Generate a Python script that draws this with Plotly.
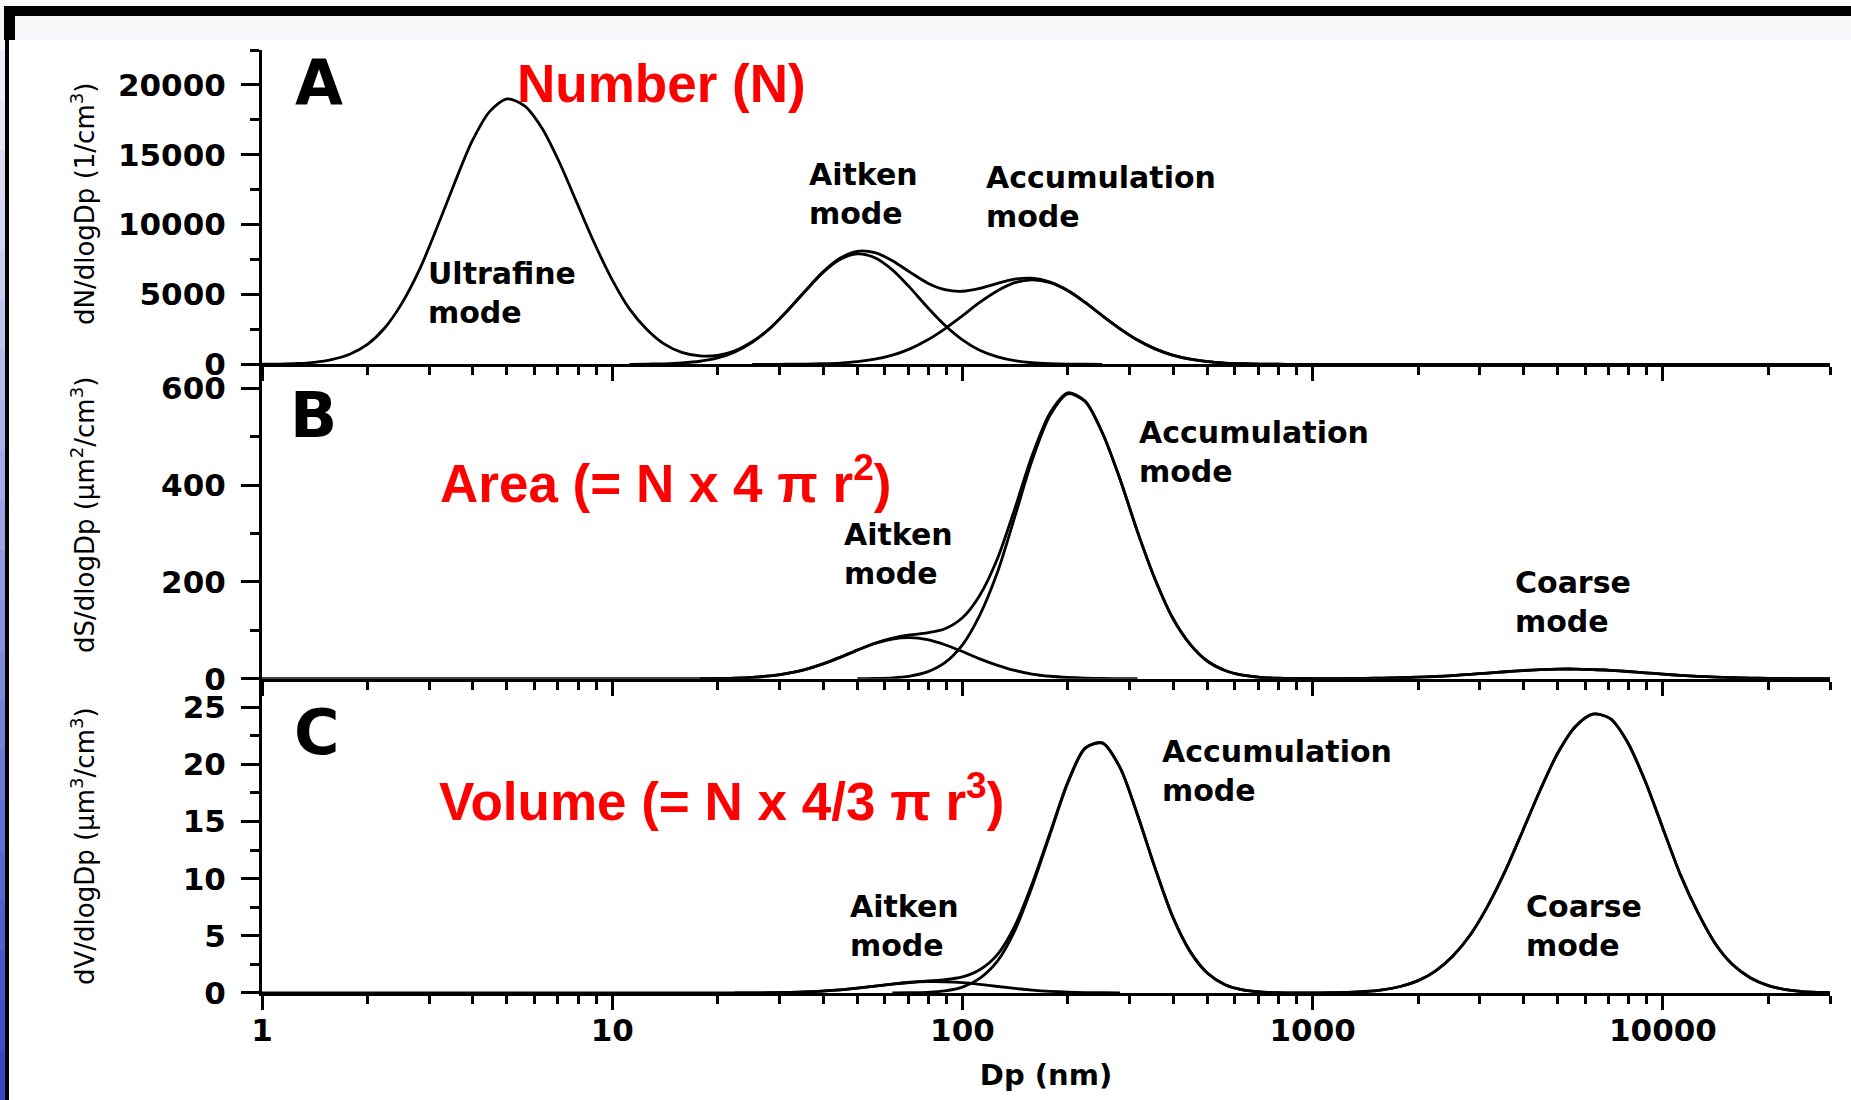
import plotly.graph_objects as go

# ---------------- data ----------------
# Particle diameter grid (nm), ~0.05-decade steps
DP = [1.0, 1.12, 1.26, 1.41, 1.58, 1.78, 2.0, 2.24, 2.51, 2.82, 3.16, 3.55, 3.98, 4.47, 5.01, 5.62, 6.31, 7.08, 7.94, 8.91,
      10, 11.2, 12.6, 14.1, 15.8, 17.8, 20, 22.4, 25.1, 28.2, 31.6, 35.5, 39.8, 44.7, 50.1, 56.2, 63.1, 70.8, 79.4, 89.1,
      100, 112, 126, 141, 158, 178, 200, 224, 251, 282, 316, 355, 398, 447, 501, 562, 631, 708, 794, 891,
      1000, 1120, 1260, 1410, 1580, 1780, 2000, 2240, 2510, 2820, 3160, 3550, 3980, 4470, 5010, 5620, 6310, 7080, 7940, 8910,
      10000, 11200, 12600, 14100, 15800, 17800, 20000, 22400, 25100, 28200, 30000]

# Panel A: number distribution dN/dlogDp (1/cm3)
N_TOTAL = [10, 22, 59, 147, 340, 724, 1430, 2600, 4380, 6810,
           9790, 13000, 15970, 18110, 19000, 18500, 16880, 14410, 11520, 8630,
           6050, 3970, 2460, 1444, 854, 602, 644, 973, 1614, 2581,
           3827, 5230, 6569, 7589, 8090, 7997, 7420, 6599, 5829, 5345,
           5231, 5439, 5799, 6101, 6164, 5890, 5285, 4436, 3476, 2545,
           1739, 1109, 660, 367, 190, 92, 41, 17, 7, 2,
           0, 0, 0, 0, 0, 0, 0, 0, 0, 0, 0, 0, 0, 0, 0, 0, 0, 0, 0, 0,
           0, 0, 0, 0, 0, 0, 0, 0, 0, 0, 0]
N_AITKEN_DP = DP[21:49]
N_AITKEN = [0, 20, 38, 96, 220, 463, 893, 1580, 2565, 3820, 5213, 6528, 7497, 7900, 7630,
            6760, 5490, 4090, 2800, 1755, 1009, 531, 257, 114, 46, 17, 6, 0]
N_ACCUM_DP = DP[28:61]
N_ACCUM = [0, 2, 7, 17, 41, 92, 190, 367, 660, 1109, 1739, 2545, 3476, 4430, 5268, 5844, 6050,
           5844, 5268, 4430, 3476, 2545, 1739, 1109, 660, 367, 190, 92, 41, 17, 7, 2, 0]

# Panel B: surface distribution dS/dlogDp (um2/cm3)
S_COARSE_DP = DP[59:91]
S_COARSE = [0, 0.08, 0.17, 0.33, 0.62, 1.1, 1.85, 3.0, 4.5, 6.5, 8.9, 11.6, 14.3, 16.8, 18.7, 19.8,
            19.9, 19.0, 17.2, 14.8, 12.1, 9.4, 6.9, 4.9, 3.2, 2.0, 1.2, 0.7, 0.38, 0.2, 0.1, 0.05]
S_TOTAL = [0] * 26 + [0.5, 1.2, 2.8, 5.7, 10.9, 18.9, 30.1, 44, 59, 73.3, 83.8, 90.4, 94.7, 103.2,
                      126, 172, 249, 351, 461, 550, 591, 574, 508, 412, 304, 205, 126, 71, 36, 17,
                      7.2, 2.8, 1.0, 0.3] + S_COARSE[1:]
S_AITKEN_DP = DP[25:51]
S_AITKEN = [0, 0.5, 1.2, 2.8, 5.7, 10.9, 18.9, 30.1, 44, 59, 72.7, 82, 85, 80.7, 70.2, 56.1,
            41, 27.6, 17, 9.6, 5, 2.4, 1, 0.4, 0.15, 0]
S_ACCUM_DP = DP[34:61]
S_ACCUM = [0, 0.6, 1.8, 5.4, 14, 33, 70, 131, 221, 334, 451, 545, 589, 573, 508, 412, 304,
           205, 126, 71, 36, 17, 7.2, 2.8, 1.0, 0.3, 0]

# Panel C: volume distribution dV/dlogDp (um3/cm3)
V_COARSE_DP = DP[59:91]
V_COARSE = [0, 0.01, 0.025, 0.06, 0.13, 0.28, 0.57, 1.08, 1.92, 3.22, 5.1, 7.6, 10.7, 14.2, 17.8,
            21.0, 23.3, 24.4, 24.0, 21.9, 18.5, 14.4, 10.4, 7.0, 4.33, 2.49, 1.32, 0.65, 0.3,
            0.12, 0.05, 0.02]
V_TOTAL = [0] * 28 + [0.01, 0.02, 0.05, 0.09, 0.17, 0.28, 0.43, 0.61, 0.78, 0.94, 1.05, 1.16,
                      1.41, 2.03, 3.38, 5.84, 9.54, 14.05, 18.48, 21.44, 21.88, 19.7, 15.6, 10.9,
                      6.7, 3.62, 1.72, 0.72, 0.27, 0.09, 0.02] + V_COARSE
V_AITKEN_DP = DP[27:50]
V_AITKEN = [0, 0.01, 0.02, 0.05, 0.09, 0.17, 0.28, 0.43, 0.61, 0.78, 0.92, 0.99, 0.98, 0.90,
            0.75, 0.57, 0.40, 0.26, 0.15, 0.08, 0.04, 0.02, 0]
V_ACCUM_DP = DP[36:60]
V_ACCUM = [0, 0.02, 0.06, 0.18, 0.51, 1.28, 2.81, 5.44, 9.28, 13.9, 18.4, 21.4, 21.86, 19.7,
           15.6, 10.9, 6.7, 3.62, 1.72, 0.72, 0.27, 0.09, 0.02, 0]

X_TICKS = [1, 10, 100, 1000, 10000]
X_TICK_TEXT = ["1", "10", "100", "1000", "10000"]
X_MINOR = [2, 3, 4, 5, 6, 7, 8, 9, 20, 30, 40, 50, 60, 70, 80, 90, 200, 300, 400, 500, 600, 700,
           800, 900, 2000, 3000, 4000, 5000, 6000, 7000, 8000, 9000, 20000, 30000]
YA_TICKS = [0, 5000, 10000, 15000, 20000]
YA_TEXT = ["0", "5000", "10000", "15000", "20000"]
YB_TICKS = [0, 200, 400, 600]
YB_TEXT = ["0", "200", "400", "600"]
YC_TICKS = [0, 5, 10, 15, 20, 25]
YC_TEXT = ["0", "5", "10", "15", "20", "25"]

# ---------------- figure ----------------
W, H = 1851, 1100
ML, MR, MT, MB = 262, 21, 50, 107
PW, PH = W - ML - MR, H - MT - MB


def px(x):
    return (x - ML) / PW


def py(y):
    return (H - MB - y) / PH


fig = go.Figure()
LINE = dict(color="black", width=2.8, shape="spline", smoothing=0.8)

series = [
    ("x3", "y3", DP, N_TOTAL), ("x3", "y3", N_AITKEN_DP, N_AITKEN), ("x3", "y3", N_ACCUM_DP, N_ACCUM),
    ("x2", "y2", DP, S_TOTAL), ("x2", "y2", S_AITKEN_DP, S_AITKEN), ("x2", "y2", S_ACCUM_DP, S_ACCUM),
    ("x2", "y2", S_COARSE_DP, S_COARSE),
    ("x", "y", DP, V_TOTAL), ("x", "y", V_AITKEN_DP, V_AITKEN), ("x", "y", V_ACCUM_DP, V_ACCUM),
    ("x", "y", V_COARSE_DP, V_COARSE),
]
for xa, ya, xs, ys in series:
    fig.add_trace(go.Scatter(x=xs, y=ys, mode="lines", line=LINE, xaxis=xa, yaxis=ya,
                             showlegend=False, hoverinfo="skip"))

TICKFONT = dict(family="DejaVu Sans", size=31, color="black", weight="bold")
xcommon = dict(type="log", range=[0, 4.4771], showline=True, linecolor="black", linewidth=3,
               ticks="outside", ticklen=14, tickwidth=3, tickcolor="black",
               tickvals=X_TICKS, ticktext=X_TICK_TEXT, showgrid=False, zeroline=False,
               minor=dict(ticks="outside", ticklen=8, tickwidth=2.5, tickcolor="black",
                          tickvals=X_MINOR, showgrid=False),
               tickfont=TICKFONT, ticklabelstandoff=-6)
ycommon = dict(showline=True, linecolor="black", linewidth=3, ticks="outside", ticklen=18,
               tickwidth=3, tickcolor="black", showgrid=False, zeroline=False,
               tickfont=TICKFONT, ticklabelstandoff=9)
YMINOR = dict(ticks="outside", ticklen=9, tickwidth=2.5, tickcolor="black", showgrid=False)

fig.update_layout(
    width=W, height=H, margin=dict(l=ML, r=MR, t=MT, b=MB),
    paper_bgcolor="white", plot_bgcolor="white",
    xaxis=dict(**xcommon, anchor="y", domain=[0, 1],
               title=dict(text="Dp (nm)",
                          font=dict(family="DejaVu Sans", size=29, color="black", weight="bold"),
                          standoff=18)),
    xaxis2=dict(**xcommon, anchor="y2", domain=[0, 1], matches="x", showticklabels=False),
    xaxis3=dict(**xcommon, anchor="y3", domain=[0, 1], matches="x", showticklabels=False),
    yaxis=dict(**ycommon, anchor="x", domain=[0, 1 / 3], range=[0, 27.5],
               tickvals=YC_TICKS, ticktext=YC_TEXT,
               minor=dict(**YMINOR, tickvals=[2.5, 7.5, 12.5, 17.5, 22.5, 27.5])),
    yaxis2=dict(**ycommon, anchor="x2", domain=[1 / 3, 2 / 3], range=[0, 650],
                tickvals=YB_TICKS, ticktext=YB_TEXT,
                minor=dict(**YMINOR, tickvals=[100, 300, 500])),
    yaxis3=dict(**ycommon, anchor="x3", domain=[2 / 3, 1], range=[0, 22500],
                tickvals=YA_TICKS, ticktext=YA_TEXT,
                minor=dict(**YMINOR, tickvals=[2500, 7500, 12500, 17500, 22500])),
)

# ---- y-axis titles (rotated) ----
YT_FONT = dict(family="DejaVu Sans", size=26, color="black")
for text, yc in [("dN/dlogDp (1/cm<sup>3</sup>)", 204),
                 ("dS/dlogDp (μm<sup>2</sup>/cm<sup>3</sup>)", 515),
                 ("dV/dlogDp (μm<sup>3</sup>/cm<sup>3</sup>)", 846)]:
    fig.add_annotation(text=text, xref="paper", yref="paper", x=px(83), y=py(yc),
                       xanchor="center", yanchor="middle", textangle=-90, showarrow=False,
                       font=YT_FONT)

# ---- panel letters ----
for text, x, y in [("A", 293, 44), ("B", 288, 377), ("C", 292, 694)]:
    fig.add_annotation(text=text, xref="paper", yref="paper", x=px(x), y=py(y),
                       xanchor="left", yanchor="top", showarrow=False,
                       font=dict(family="DejaVu Sans", size=62, color="black", weight="bold"))

# ---- red headings ----
RED = dict(family="Liberation Sans", size=53, color="#ff0000", weight="bold")
for text, x, y in [("Number (N)", 515, 52),
                   ("Area (= N x 4 π r<sup>2</sup>)", 438, 444),
                   ("Volume (= N x 4/3 π r<sup>3</sup>)", 437, 762)]:
    fig.add_annotation(text=text, xref="paper", yref="paper", x=px(x), y=py(y),
                       xanchor="left", yanchor="top", showarrow=False, font=RED)

# ---- mode labels ----
MODE_FONT = dict(family="DejaVu Sans", size=30, color="black", weight="bold")
for text, x, y in [("Ultrafine<br>mode", 426, 254), ("Aitken<br>mode", 807, 155),
                   ("Accumulation<br>mode", 984, 158),
                   ("Accumulation<br>mode", 1137, 413), ("Aitken<br>mode", 842, 515),
                   ("Coarse<br>mode", 1513, 563),
                   ("Accumulation<br>mode", 1160, 732), ("Aitken<br>mode", 848, 887),
                   ("Coarse<br>mode", 1524, 887)]:
    fig.add_annotation(text=text, xref="paper", yref="paper", x=px(x), y=py(y),
                       xanchor="left", yanchor="top", align="left", showarrow=False,
                       font=MODE_FONT)

# ---- slide frame decoration ----
shapes = []


def rect(x0, y0, x1, y1, color):
    shapes.append(dict(type="rect", xref="paper", yref="paper", x0=px(x0), x1=px(x1),
                       y0=py(y1), y1=py(y0), fillcolor=color, line=dict(width=0), layer="above"))


n = 22
for i in range(n):
    t = i / (n - 1)
    r = int(246 + (58 - 246) * t)
    g = int(246 + (70 - 246) * t)
    b = int(252 + (200 - 252) * t)
    rect(0, i * H / n, 5, (i + 1) * H / n + 1, f"rgb({r},{g},{b})")
rect(15, 16, W, 40, "#f7f8fa")
rect(4, 6, W, 16, "black")
rect(4, 6, 15, 40, "black")
rect(5, 40, 9, H, "black")
fig.update_layout(shapes=shapes)

fig.write_html("out.html")
